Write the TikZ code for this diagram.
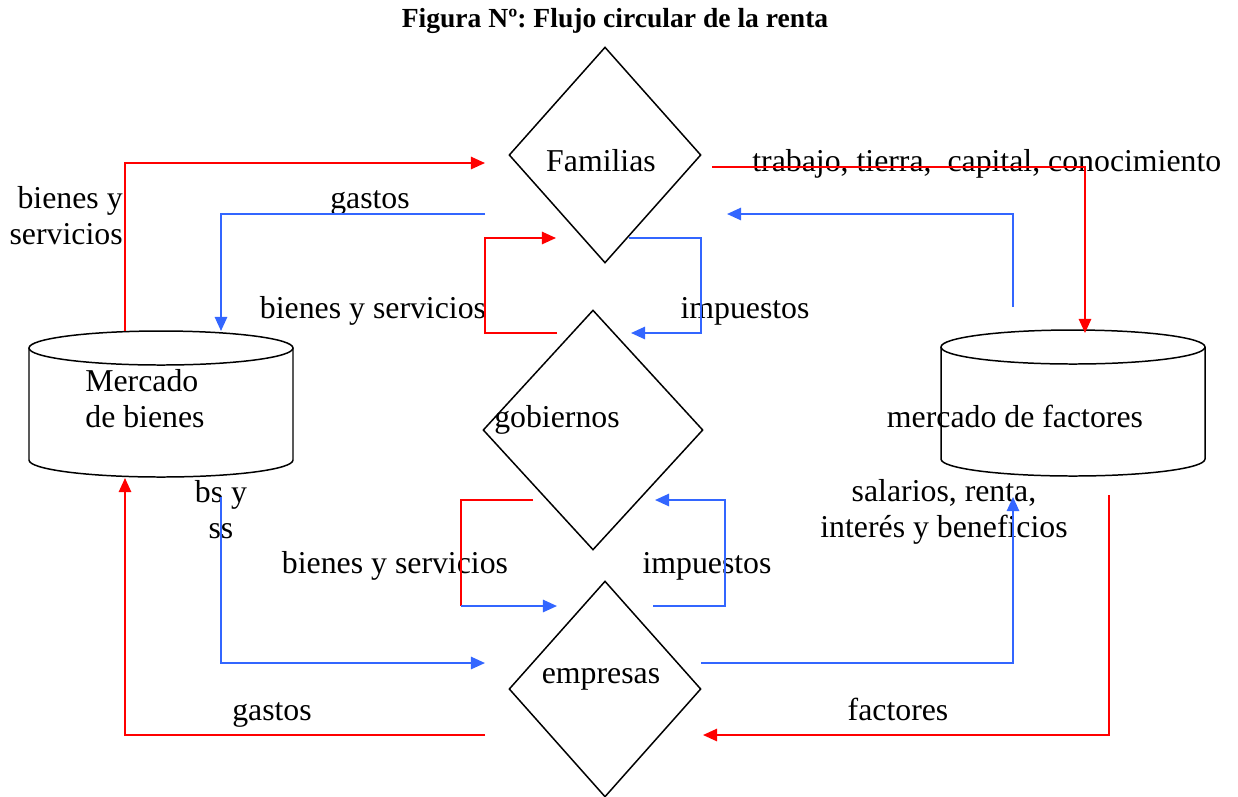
\documentclass[tikz,border=0pt]{standalone}
\usepackage{fontspec}
\setmainfont{Liberation Serif}
\frenchspacing
\usetikzlibrary{arrows.meta,shapes.geometric}
\definecolor{fred}{RGB}{255,0,0}
\definecolor{fblue}{RGB}{51,102,255}
\begin{document}
\begin{tikzpicture}[x=0.02cm,y=0.02cm,
  lbl/.style={font=\fontsize{18.1}{20.8}\selectfont, inner sep=0pt, anchor=base},
  mlbl/.style={font=\fontsize{18.1}{20.8}\selectfont, inner sep=0pt},
  dia/.style={diamond, draw=black, line width=0.85pt, inner sep=0pt},
  cyl/.style={draw=black, line width=0.85pt},
  rf/.style={draw=fred, line width=1.1pt, -{Triangle[length=8pt,width=7pt]}},
  bf/.style={draw=fblue, line width=1.1pt, -{Triangle[length=8pt,width=7pt]}},
  rl/.style={draw=fred, line width=1.1pt},
  bl/.style={draw=fblue, line width=1.1pt}]
\useasboundingbox (0,0) rectangle (1238,-796);

% title
\node[font=\fontsize{15.7}{18}\selectfont\bfseries, inner sep=0pt, anchor=base] (title) at (615,-27) {Figura Nº: Flujo circular de la renta};

% diamonds
\node[dia, minimum width=3.84cm, minimum height=4.32cm] (fam) at (605,-155) {};
\node[dia, minimum width=4.4cm, minimum height=4.8cm] (gob) at (593,-430) {};
\node[dia, minimum width=3.84cm, minimum height=4.32cm] (emp) at (605,-689) {};

% cylinders
\node[minimum width=5.28cm, minimum height=2.92cm, inner sep=0pt] (mb) at (161,-404) {};
\draw[cyl] (161,-348) ellipse [x radius=132, y radius=17];
\draw[cyl] (29,-348) -- (29,-460) arc[start angle=180, end angle=360, x radius=132, y radius=17] -- (293,-348);
\node[minimum width=5.28cm, minimum height=2.92cm, inner sep=0pt] (mf) at (1073,-403) {};
\draw[cyl] (1073,-347) ellipse [x radius=132, y radius=17];
\draw[cyl] (941,-347) -- (941,-459) arc[start angle=180, end angle=360, x radius=132, y radius=17] -- (1205,-347);

% labels
\node[lbl] (tfam) at (601,-171) {Familias};
\node[lbl] (tgob) at (557,-427) {gobiernos};
\node[lbl] (temp) at (601,-683) {empresas};
\node[mlbl, align=left, anchor=north west] (tmb) at (85,-369) {Mercado\\de bienes};
\node[lbl] (tmf) at (1015,-427) {mercado de factores};
\node[lbl, anchor=base west] (ttrab) at (752,-171) {trabajo, tierra,\ \ capital, conocimiento};
\node[mlbl, align=right, anchor=north east] (tbys1) at (123,-186) {bienes y\\servicios};
\node[lbl] (tgas1) at (370,-208) {gastos};
\node[lbl] (tbys2) at (373,-318) {bienes y servicios};
\node[lbl] (timp1) at (745,-318) {impuestos};
\node[mlbl, align=center, anchor=north] (tbsss) at (221,-480) {bs y\\ss};
\node[mlbl, align=center, anchor=north] (tsal) at (944,-479) {salarios, renta,\\interés y beneficios};
\node[lbl] (tbys3) at (395,-573) {bienes y servicios};
\node[lbl] (timp2) at (707,-573) {impuestos};
\node[lbl] (tgas2) at (272,-720) {gastos};
\node[lbl] (tfac) at (898,-720) {factores};

% connector end points
\coordinate (mbTa) at (125,-331);
\coordinate (mbTb) at (221,-331);
\coordinate (mbBa) at (125,-478);
\coordinate (mbBb) at (221,-497);
\coordinate (mfTa) at (1085,-333);
\coordinate (mfTb) at (1013,-307);
\coordinate (mfBa) at (1013,-497);
\coordinate (mfBb) at (1109,-495);
\coordinate (famA) at (485,-163);
\coordinate (famB) at (485,-214);
\coordinate (famC) at (712,-167);
\coordinate (famD) at (727,-214);
\coordinate (famE) at (556,-238);
\coordinate (famF) at (629,-238);
\coordinate (gobA) at (557,-333);
\coordinate (gobB) at (631,-333);
\coordinate (gobC) at (533,-500);
\coordinate (gobD) at (655,-500);
\coordinate (empA) at (557,-606);
\coordinate (empB) at (653,-606);
\coordinate (empC) at (485,-663);
\coordinate (empD) at (701,-663);
\coordinate (empE) at (485,-735);
\coordinate (empF) at (703,-735);
\coordinate (bend) at (461,-606);

% connectors
\draw[rf] (mbTa) |- (famA);
\draw[bf] (famB) -| (mbTb);
\draw[rf] (famC) -| (mfTa);
\draw[bf] (mfTb) |- (famD);
\draw[rf] (gobA) -- (485,-333) -- (485,-238) -- (famE);
\draw[bf] (famF) -- (701,-238) -- (701,-333) -- (gobB);
\draw[rl] (gobC) -- (461,-500) -- (bend);
\draw[bf] (bend) -- (empA);
\draw[bf] (empB) -- (725,-606) -- (725,-500) -- (gobD);
\draw[bf] (mbBb) |- (empC);
\draw[bf] (empD) -| (mfBa);
\draw[rf] (mfBb) |- (empF);
\draw[rf] (empE) -| (mbBa);
\end{tikzpicture}
\end{document}
